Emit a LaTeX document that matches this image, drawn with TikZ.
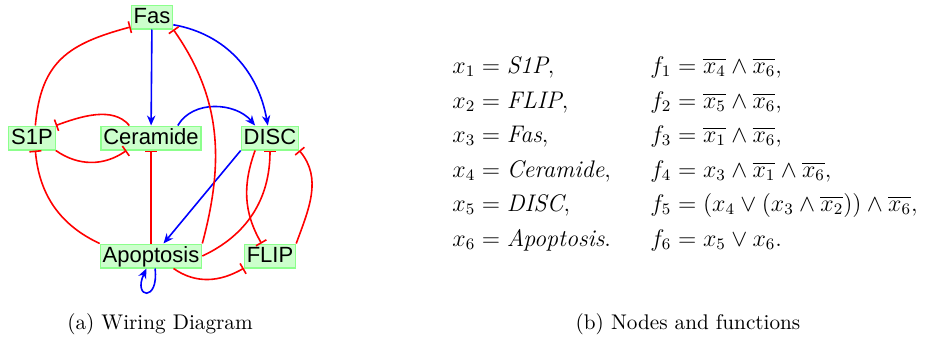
\documentclass[tikz,border=0pt]{standalone}
\usepackage{fontspec}
\newfontfamily\nodefont{Liberation Sans}
\usetikzlibrary{arrows.meta}
\begin{document}
\begin{tikzpicture}[x=0.5pt,y=0.5pt,
  gene/.style={draw=green!45, fill=green!20, line width=0.6pt,
    font=\nodefont\fontsize{11}{13}\selectfont,
    inner xsep=1.2pt, inner ysep=0.6pt, text height=8.4pt, text depth=2.3pt},
  act/.style={blue, line width=0.8pt, -{Stealth[length=5pt,width=4.2pt,inset=1.6pt]}},
  inh/.style={red, line width=0.8pt, -{Bar[width=6pt]}},
  eqn/.style={font=\fontsize{12}{14}\selectfont, anchor=base west, inner sep=0pt},
  captext/.style={font=\fontsize{10.6}{13}\selectfont, anchor=base, inner sep=0pt}]
\useasboundingbox (0,0) rectangle (938,344);

% wiring diagram nodes
\node[gene] (fas)  at (152,327) {Fas};
\node[gene] (s1p)  at (32,206)  {S1P};
\node[gene] (cer)  at (151,206) {Ceramide};
\node[gene] (disc) at (270,206) {DISC};
\node[gene] (apo)  at (151,88)  {Apoptosis};
\node[gene] (flip) at (270,88)  {FLIP};

% activations
\draw[act] (fas) -- (cer);
\draw[act] (fas.-20) to[out=-10,in=100] (disc.100);
\draw[act] (cer.25) to[out=60,in=130] (disc.140);
\draw[act] (disc.south west) -- (apo.45);
\draw[act] (apo.-72) .. controls +(4,-34) and +(-14,-30) .. (apo.-110);

% inhibitions
\draw[inh] (s1p.75) to[out=85,in=195,looseness=1.2] (fas.205);
\draw[inh] (cer.150) to[out=130,in=20,looseness=0.9] (s1p.north east);
\draw[inh] (s1p.south east) to[out=-35,in=-145] (cer.-153);
\draw[inh] (apo.north west) to[out=155,in=-85] (s1p.-75);
\draw[inh] (apo) -- (cer);
\draw[inh] (apo.north east) to[out=75,in=-55] (fas.south east);
\draw[inh] (apo.east) to[out=25,in=-90] (disc.south);
\draw[inh] (disc.-140) to[out=-110,in=120] (flip.124);
\draw[inh] (flip.north east) to[out=70,in=-50] (disc.south east);
\draw[inh] (apo.-29) to[out=-35,in=-150] (flip.205);

% node list and update functions
\node[eqn] (x1) at (452,271) {$x_1 = \textit{S1P},$};
\node[eqn] (x2) at (452,236) {$x_2 = \textit{FLIP},$};
\node[eqn] (x3) at (452,202) {$x_3 = \textit{Fas},$};
\node[eqn] (x4) at (452,167) {$x_4 = \textit{Ceramide},$};
\node[eqn] (x5) at (452,133) {$x_5 = \textit{DISC},$};
\node[eqn] (x6) at (452,98)  {$x_6 = \textit{Apoptosis}.$};

\node[eqn] (f1) at (650,271) {$f_1 = \overline{x_4} \wedge \overline{x_6},$};
\node[eqn] (f2) at (650,236) {$f_2 = \overline{x_5} \wedge \overline{x_6},$};
\node[eqn] (f3) at (650,202) {$f_3 = \overline{x_1} \wedge \overline{x_6},$};
\node[eqn] (f4) at (650,167) {$f_4 = x_3 \wedge \overline{x_1} \wedge \overline{x_6},$};
\node[eqn] (f5) at (650,133) {$f_5 = \bigl(x_4 \vee (x_3 \wedge \overline{x_2})\bigr) \wedge \overline{x_6},$};
\node[eqn] (f6) at (650,98)  {$f_6 = x_5 \vee x_6.$};

% captions
\node[captext] (capa) at (160,15) {(a) Wiring Diagram};
\node[captext] (capb) at (688,15) {(b) Nodes and functions};
\end{tikzpicture}
\end{document}
